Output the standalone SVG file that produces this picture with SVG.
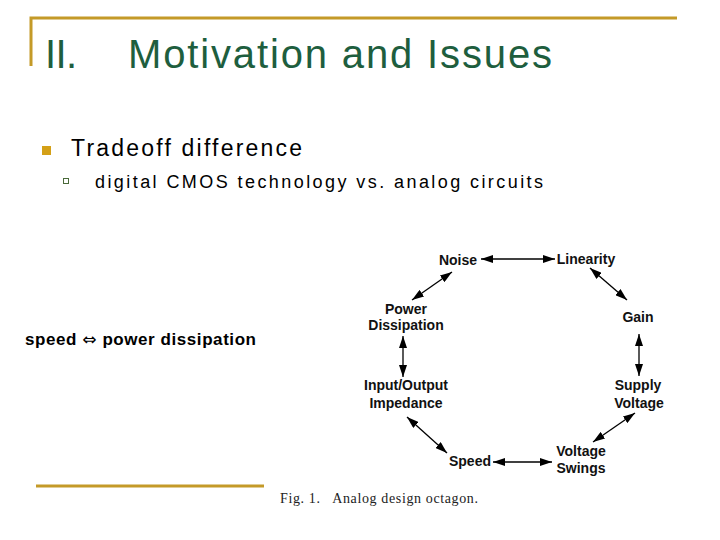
<svg xmlns="http://www.w3.org/2000/svg" width="720" height="540" viewBox="0 0 720 540">
<defs>
<marker id="ah" viewBox="0 0 12 8" refX="12" refY="4" markerWidth="12" markerHeight="8" markerUnits="userSpaceOnUse" orient="auto-start-reverse">
<path d="M0,0 L12,4 L0,8 Z" fill="#000"/>
</marker>
</defs>
<style>
.gold{stroke:#C49A28;stroke-width:3;fill:none}
.title{font-family:"Liberation Sans",Arial,sans-serif;font-size:40px;fill:#1E5E3E}
.body{font-family:"Liberation Sans",Arial,sans-serif;fill:#000}
.lbl{font-family:"Liberation Sans",Arial,sans-serif;font-weight:bold;font-size:14px;fill:#111;text-anchor:middle}
.cap{font-family:"Liberation Serif","Times New Roman",serif;font-size:14px;fill:#222}
.con{stroke:#000;stroke-width:1.3;fill:none;marker-start:url(#ah);marker-end:url(#ah)}
</style>
<rect width="720" height="540" fill="#fff"/>
<path class="gold" d="M31,66 L31,18 L677,18"/>
<text class="title" x="45" y="68" textLength="32">II.</text>
<text class="title" x="128" y="68" textLength="424">Motivation and Issues</text>
<rect x="42" y="146" width="9" height="9" fill="#D4A017"/>
<text class="body" x="71" y="156" font-size="23" textLength="231">Tradeoff difference</text>
<rect x="63.5" y="178.5" width="5" height="5" fill="none" stroke="#4a6a3a" stroke-width="1"/>
<text class="body" x="95" y="188" font-size="18" textLength="448">digital CMOS technology vs. analog circuits</text>
<text class="body" x="25" y="345" font-size="17" font-weight="bold" textLength="231">speed <tspan font-family="'DejaVu Sans',sans-serif" font-weight="normal">⇔</tspan> power dissipation</text>
<line class="gold" x1="36" y1="486" x2="264" y2="486"/>
<text class="cap" x="280" y="503" textLength="198" xml:space="preserve">Fig. 1.   Analog design octagon.</text>
<g id="connectors">
<line class="con" x1="481" y1="259" x2="555" y2="259"/>
<line class="con" x1="452" y1="272" x2="412" y2="300"/>
<line class="con" x1="590" y1="268" x2="627" y2="300"/>
<line class="con" x1="403" y1="336" x2="403" y2="377"/>
<line class="con" x1="639" y1="334" x2="639" y2="376"/>
<line class="con" x1="407" y1="417" x2="447" y2="453"/>
<line class="con" x1="635" y1="413" x2="593" y2="442"/>
<line class="con" x1="493" y1="462" x2="552" y2="462"/>
</g>
<g id="noise"><text class="lbl" x="458" y="265">Noise</text></g>
<g id="linearity"><text class="lbl" x="586" y="264">Linearity</text></g>
<g id="power"><text class="lbl" x="406" y="314">Power</text><text class="lbl" x="406" y="330">Dissipation</text></g>
<g id="gain"><text class="lbl" x="638" y="322">Gain</text></g>
<g id="io"><text class="lbl" x="406" y="390">Input/Output</text><text class="lbl" x="406" y="408">Impedance</text></g>
<g id="supply"><text class="lbl" x="638" y="390">Supply</text><text class="lbl" x="639" y="408">Voltage</text></g>
<g id="speed"><text class="lbl" x="470" y="466">Speed</text></g>
<g id="swings"><text class="lbl" x="581" y="456">Voltage</text><text class="lbl" x="581" y="473">Swings</text></g>
</svg>
